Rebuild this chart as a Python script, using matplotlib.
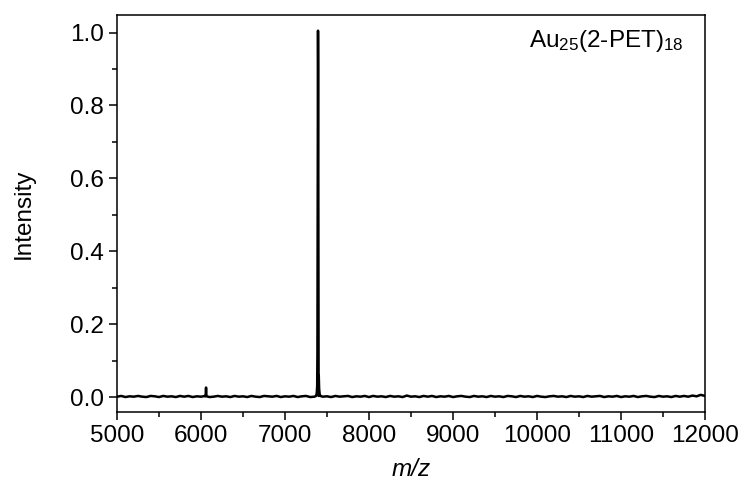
import matplotlib
matplotlib.use("Agg")
import matplotlib.pyplot as plt
import numpy as np

plt.rcParams['font.family'] = ['Liberation Sans', 'DejaVu Sans']
plt.rcParams['mathtext.fontset'] = 'custom'
plt.rcParams['mathtext.rm'] = 'Liberation Sans'
plt.rcParams['mathtext.it'] = 'Liberation Sans:italic'

# Baseline samples (m/z) and intensity (noise level)
base_mz = list(range(5000, 12001, 50))
base_int = [
    0.002, 0.004, 0.001, 0.003, 0.002, 0.004, 0.002, 0.001, 0.004, 0.003,
    0.001, 0.004, 0.002, 0.003, 0.001, 0.004, 0.002, 0.004, 0.001, 0.003,
    0.002, 0.004, 0.001, 0.002, 0.004, 0.002, 0.003, 0.001, 0.004, 0.002,
    0.003, 0.001, 0.004, 0.002, 0.001, 0.004, 0.003, 0.002, 0.004, 0.001,
    0.003, 0.002, 0.004, 0.001, 0.003, 0.004, 0.001, 0.002, 0.004, 0.002,
    0.003, 0.001, 0.004, 0.002, 0.003, 0.004, 0.001, 0.003, 0.002, 0.004,
    0.001, 0.004, 0.002, 0.003, 0.001, 0.004, 0.002, 0.003, 0.001, 0.005,
    0.002, 0.003, 0.001, 0.004, 0.002, 0.004, 0.001, 0.003, 0.002, 0.004,
    0.001, 0.003, 0.004, 0.002, 0.001, 0.004, 0.002, 0.003, 0.001, 0.004,
    0.002, 0.003, 0.001, 0.004, 0.003, 0.001, 0.004, 0.002, 0.003, 0.001,
    0.004, 0.002, 0.001, 0.003, 0.004, 0.002, 0.003, 0.001, 0.004, 0.002,
    0.003, 0.001, 0.004, 0.002, 0.003, 0.004, 0.001, 0.003, 0.002, 0.004,
    0.001, 0.003, 0.002, 0.004, 0.001, 0.003, 0.004, 0.002, 0.001, 0.004,
    0.002, 0.003, 0.001, 0.004, 0.002, 0.004, 0.002, 0.005, 0.003, 0.007,
    0.004,
]

# Minor peak near 6060
p1_mz = [6052, 6056, 6058, 6060, 6062, 6064, 6068]
p1_int = [0.003, 0.008, 0.018, 0.027, 0.016, 0.007, 0.003]

# Main peak Au25(2-PET)18 near 7393
p2_mz = [7370, 7378, 7383, 7386, 7388, 7390, 7392, 7393, 7395, 7397, 7399, 7402, 7406, 7412, 7420]
p2_int = [0.004, 0.012, 0.03, 0.12, 0.4, 0.8, 0.98, 1.005, 0.9, 0.55, 0.2, 0.06, 0.025, 0.01, 0.004]

mz = np.array(base_mz + p1_mz + p2_mz, dtype=float)
inten = np.array(base_int + p1_int + p2_int, dtype=float)
order = np.argsort(mz)
mz, inten = mz[order], inten[order]

fig = plt.figure(figsize=(7.46, 4.92), dpi=100)
ax = fig.add_axes([117/746, 1-412/492, (705-117)/746, (412-15)/492])
ax.plot(mz, inten, color='black', lw=1.8)

ax.set_xlim(5000, 12000)
ax.set_ylim(-0.04, 1.048)
ax.set_xticks(np.arange(5000, 12001, 1000))
ax.set_xticks(np.arange(5500, 12000, 1000), minor=True)
ax.set_yticks([0.0, 0.2, 0.4, 0.6, 0.8, 1.0])
ax.set_yticklabels(['0.0', '0.2', '0.4', '0.6', '0.8', '1.0'])
ax.set_yticks([0.1, 0.3, 0.5, 0.7, 0.9], minor=True)
ax.tick_params(which='major', direction='out', length=6, width=1.1, labelsize=17.5, pad=3.5)
ax.tick_params(which='minor', direction='out', length=3.5, width=1.1)
for s in ax.spines.values():
    s.set_linewidth(1.1)

ax.set_xlabel('m/z', fontsize=17.5, style='italic', labelpad=8)
ax.set_ylabel('Intensity', fontsize=17.5, labelpad=25)
ax.text(0.963, 0.919, 'Au$_{25}$(2-PET)$_{18}$', transform=ax.transAxes,
        ha='right', va='baseline', fontsize=17.5)

fig.savefig('out.png', dpi=100)
